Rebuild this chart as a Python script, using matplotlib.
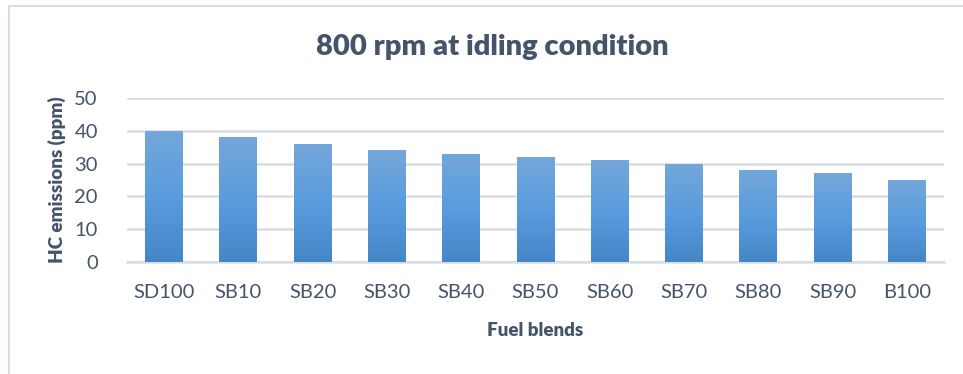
import numpy as np
import matplotlib
matplotlib.use("Agg")
from matplotlib import pyplot as plt
from matplotlib.colors import LinearSegmentedColormap
from matplotlib.patches import Rectangle

blends = ["SD100", "SB10", "SB20", "SB30", "SB40", "SB50",
          "SB60", "SB70", "SB80", "SB90", "B100"]
hc_ppm = [40, 38, 36, 34, 33, 32, 31, 30, 28, 27, 25]
y_ticks = [0, 10, 20, 30, 40, 50]

text_color = "#44546A"
grid_color = "#D9DDE3"

plt.rcParams['font.family'] = ['Lato', 'DejaVu Sans']

fig = plt.figure(figsize=(9.63, 3.74), dpi=100)
ax = fig.add_axes([0.1319, 0.2995, 0.8484, 0.4385])

# chart area border (only left/top visible in the crop)
fig.add_artist(Rectangle((9 / 963, -0.1), 1.2, 1 - 6 / 374 + 0.1,
                         transform=fig.transFigure, fill=False,
                         edgecolor="#D9DDE3", linewidth=1.5))

x = np.arange(len(blends))
bars = ax.bar(x, hc_ppm, width=0.51, color="none", zorder=3)

# vertical gradient fill, lighter at top
cmap = LinearSegmentedColormap.from_list("bar", ["#4487C7", "#5A9CDD", "#74A7DA"])
grad = np.linspace(0, 1, 256).reshape(-1, 1)
for b in bars:
    x0, y0 = b.get_x(), b.get_y()
    w, h = b.get_width(), b.get_height()
    im = ax.imshow(grad, cmap=cmap, origin="lower", aspect="auto",
                   extent=[x0, x0 + w, y0, y0 + h], zorder=3)
    im.set_clip_path(b)

ax.set_xlim(-0.5, len(blends) - 0.5)
ax.set_ylim(0, 50)
ax.set_yticks(y_ticks)
ax.set_xticks(x)
ax.set_xticklabels(blends)
ax.yaxis.grid(True, color=grid_color, linewidth=1.8, zorder=0)
ax.set_axisbelow(True)
for s in ["top", "right", "left"]:
    ax.spines[s].set_visible(False)
ax.spines["bottom"].set_color(grid_color)
ax.spines["bottom"].set_linewidth(1.8)
ax.tick_params(axis="both", length=0, labelsize=14.5, colors=text_color)
ax.tick_params(axis="x", pad=16)
ax.tick_params(axis="y", pad=21)

ax.set_xlabel("Fuel blends", fontsize=13.5, fontweight="heavy", color=text_color, labelpad=15)
ax.set_ylabel("HC emissions (ppm)", fontsize=13.5, fontweight="heavy", color=text_color, labelpad=6)
fig.text(492 / 963, 1 - 47 / 374, "800 rpm at idling condition", ha="center", va="center",
         fontsize=21, fontweight="heavy", color=text_color)

fig.savefig("out.png", dpi=100, facecolor="white")
